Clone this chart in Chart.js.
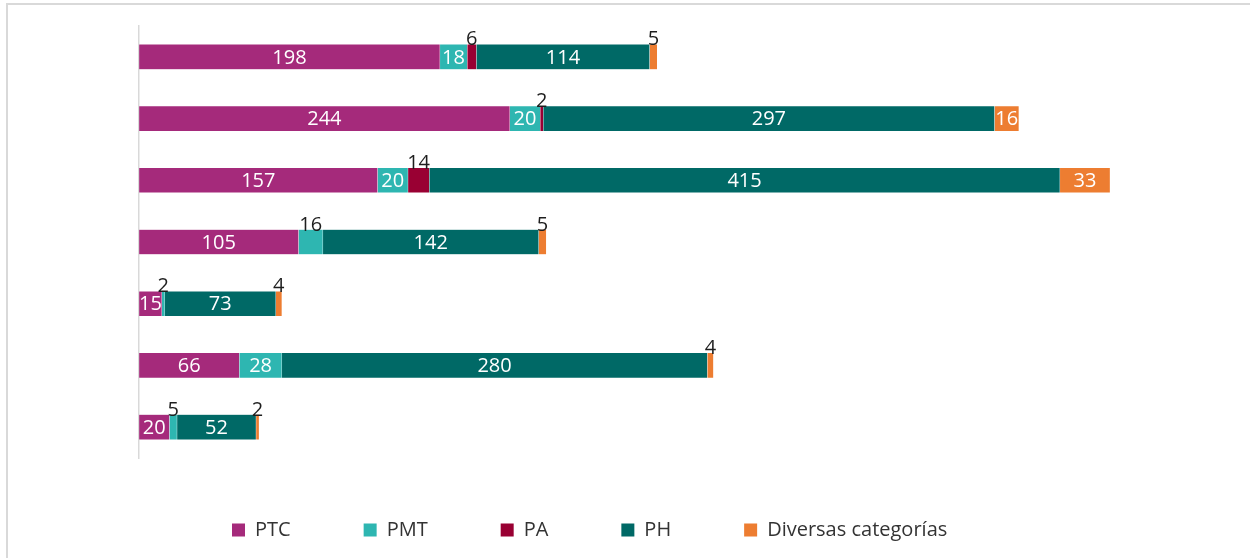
<!DOCTYPE html>
<html><head><meta charset="utf-8">
<script src="https://cdn.jsdelivr.net/npm/chart.js@4.4.1/dist/chart.umd.min.js"></script>
<style>
html,body{margin:0;padding:0;overflow:hidden;background:#fff;width:1250px;height:558px;position:relative}
#frame{position:absolute;left:6px;top:3px;width:1400px;height:700px;border-top:2px solid #d9d9d9;border-left:2px solid #d9d9d9;box-sizing:border-box}
#wrap{position:absolute;left:0;top:0;width:1250px;height:580px}
</style></head><body>
<div id="frame"></div>
<div id="wrap"><canvas id="c" width="1250" height="580"></canvas></div>
<script>
const categories = ['1', '2', '3', '4', '5', '6', '7'];
const seriesNames = ['PTC', 'PMT', 'PA', 'PH', 'Diversas categorías'];
const ptc = [198, 244, 157, 105, 15, 66, 20];
const pmt = [18, 20, 20, 16, 2, 28, 5];
const pa = [6, 2, 14, 0, 0, 0, 0];
const ph = [114, 297, 415, 142, 73, 280, 52];
const diversas = [5, 16, 33, 5, 4, 4, 2];
const xMax = 700;

const colors = ['#A52A7B', '#2EB6B1', '#990033', '#006966', '#ED7D31'];
const seriesData = [ptc, pmt, pa, ph, diversas];

const FONT = '"Open Sans", "Noto Sans", sans-serif';
const LEGEND_X = 232, LEGEND_Y = 530;

function labelAbove(di, i, v) {
  return v < 15 || (di === 1 && i === 3);
}

const segLabels = {
  id: 'segLabels',
  afterDatasetsDraw(chart) {
    const ctx = chart.ctx;
    ctx.save();
    ctx.font = '20px ' + FONT;
    ctx.textAlign = 'center';
    chart.data.datasets.forEach((ds, di) => {
      const meta = chart.getDatasetMeta(di);
      meta.data.forEach((bar, i) => {
        const v = ds.data[i];
        if (!v) return;
        const cx = (bar.x + bar.base) / 2;
        if (labelAbove(di, i, v)) {
          ctx.fillStyle = '#1e1e1e';
          ctx.textBaseline = 'alphabetic';
          ctx.fillText(String(v), cx, bar.y - bar.height / 2 + 1);
        } else {
          ctx.fillStyle = '#ffffff';
          ctx.textBaseline = 'middle';
          ctx.fillText(String(v), cx, bar.y + 1);
        }
      });
    });
    ctx.restore();
  }
};

const legendShift = {
  id: 'legendShift',
  afterLayout(chart) {
    const lg = chart.legend;
    if (!lg || !lg.lineWidths) return;
    const p = lg.options.labels.padding;
    const start = (lg.left + p + lg.right - lg.lineWidths[0]) / 2;
    const dx = LEGEND_X - start;
    const dy = LEGEND_Y - 10 - (lg.top + p);
    lg.left += dx; lg.right += dx; lg.top += dy; lg.bottom += dy;
  }
};

new Chart(document.getElementById('c'), {
  type: 'bar',
  data: {
    labels: categories,
    datasets: seriesNames.map((n, k) => ({
      label: n,
      data: seriesData[k],
      backgroundColor: colors[k],
      borderColor: 'rgba(255,255,255,0.35)',
      borderWidth: 0.5,
      borderSkipped: false,
      barThickness: 25
    }))
  },
  options: {
    indexAxis: 'y',
    responsive: false,
    animation: false,
    layout: { padding: { left: 139, right: 47.3, top: 26, bottom: 19 } },
    scales: {
      x: { stacked: true, min: 0, max: xMax, display: false },
      y: {
        stacked: true,
        grid: { display: false },
        ticks: { display: false },
        border: { display: true, color: '#d9d9d9', width: 1.5 },
        afterFit: s => { s.width = 0; }
      }
    },
    plugins: {
      tooltip: { enabled: false },
      legend: {
        position: 'bottom',
        labels: {
          boxWidth: 13,
          boxHeight: 13,
          padding: 73,
          color: '#333333',
          font: { family: FONT, size: 20 },
          generateLabels: chart => Chart.defaults.plugins.legend.labels.generateLabels(chart).map(it => Object.assign(it, { lineWidth: 0, strokeStyle: 'rgba(0,0,0,0)' }))
        }
      }
    }
  },
  plugins: [segLabels, legendShift]
});
</script>
</body></html>
